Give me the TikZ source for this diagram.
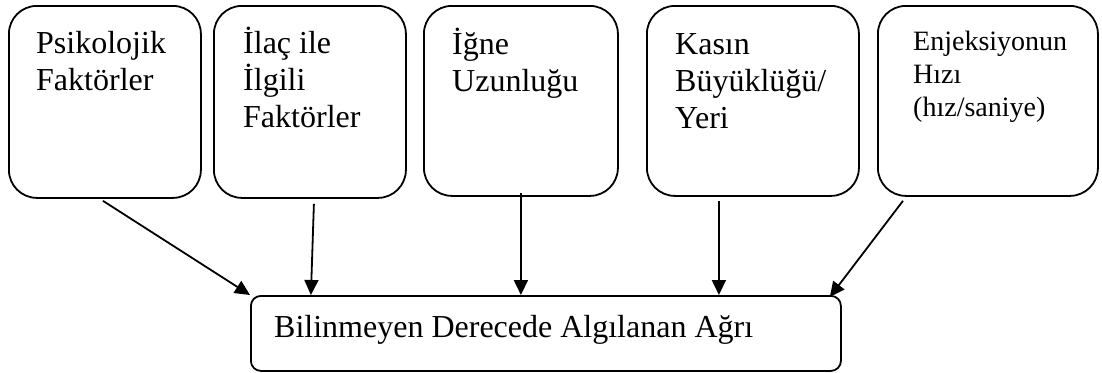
\documentclass[tikz,border=0pt]{standalone}
\usepackage{fontspec}
\setmainfont{Liberation Serif}
\usetikzlibrary{positioning}
\usetikzlibrary{arrows.meta}

\begin{document}
\begin{tikzpicture}[x=1pt, y=-1pt,
        factor/.style={draw=black, line width=1.8pt, rounded corners=28pt,
                       anchor=north west, minimum height=192pt},
        factortext/.style={anchor=base west, inner sep=0pt, align=left,
                           font=\fontsize{32}{37}\selectfont},
        arr/.style={line width=1.8pt, -{Triangle[length=15pt,width=14pt]}},
        ]

        \useasboundingbox (0,0) rectangle (1102,372);

        % factor boxes
        \node (psi) [factor, minimum width=192pt] at (8,5) {};
        \node (ilac) [factor, minimum width=192pt] at (213,5) {};
        \node (igne) [factor, minimum width=194pt, minimum height=190pt] at (423,5) {};
        \node (kas) [factor, minimum width=212pt, minimum height=190pt] at (646,5) {};
        \node (enj) [factor, minimum width=220pt, minimum height=190pt] at (877,5) {};

        % base = last line
        \node (psitxt) [factortext] at ([shift={(28,85)}]psi.north west) {Psikolojik\\Faktörler};
        \node (ilactxt) [factortext] at ([shift={(30,122)}]ilac.north west) {İlaç ile\\İlgili\\Faktörler};
        \node (ignetxt) [factortext] at ([shift={(29,86)}]igne.north west) {İğne\\Uzunluğu};
        \node (kastxt) [factortext] at ([shift={(29,123)}]kas.north west) {Kasın\\Büyüklüğü/\\Yeri};
        \node (enjtxt) [factortext, font=\fontsize{28}{33}\selectfont] at ([shift={(36,111)}]enj.north west) {Enjeksiyonun\\Hızı\\(hız/saniye)};

        % result box
        \node (agri) [draw=black, line width=1.8pt, rounded corners=10pt,
                      anchor=north west,
                      minimum width=590pt,
                      minimum height=75pt,
                      ] at (250,295) {};
        \node (agritxt) [factortext] at ([shift={(24,42)}]agri.north west) {Bilinmeyen Derecede Algılanan Ağrı};

        \draw[arr] ([shift={(-2,2)}]psi.south) -- (agri.north west);
        \draw[arr] ([shift={(4,5)}]ilac.south) -- ([xshift=1pt]ilac.south |- agri.north);
        \draw[arr] ([yshift=4pt]igne.south) -- (igne.south |- agri.north);
        \draw[arr] ([shift={(-34,4)}]kas.south) -- ([xshift=-34pt]kas.south |- agri.north);
        \draw[arr] ([shift={(26,4)}]enj.south west) -- ([shift={(-12,2)}]agri.north east);

    \end{tikzpicture}
\end{document}
